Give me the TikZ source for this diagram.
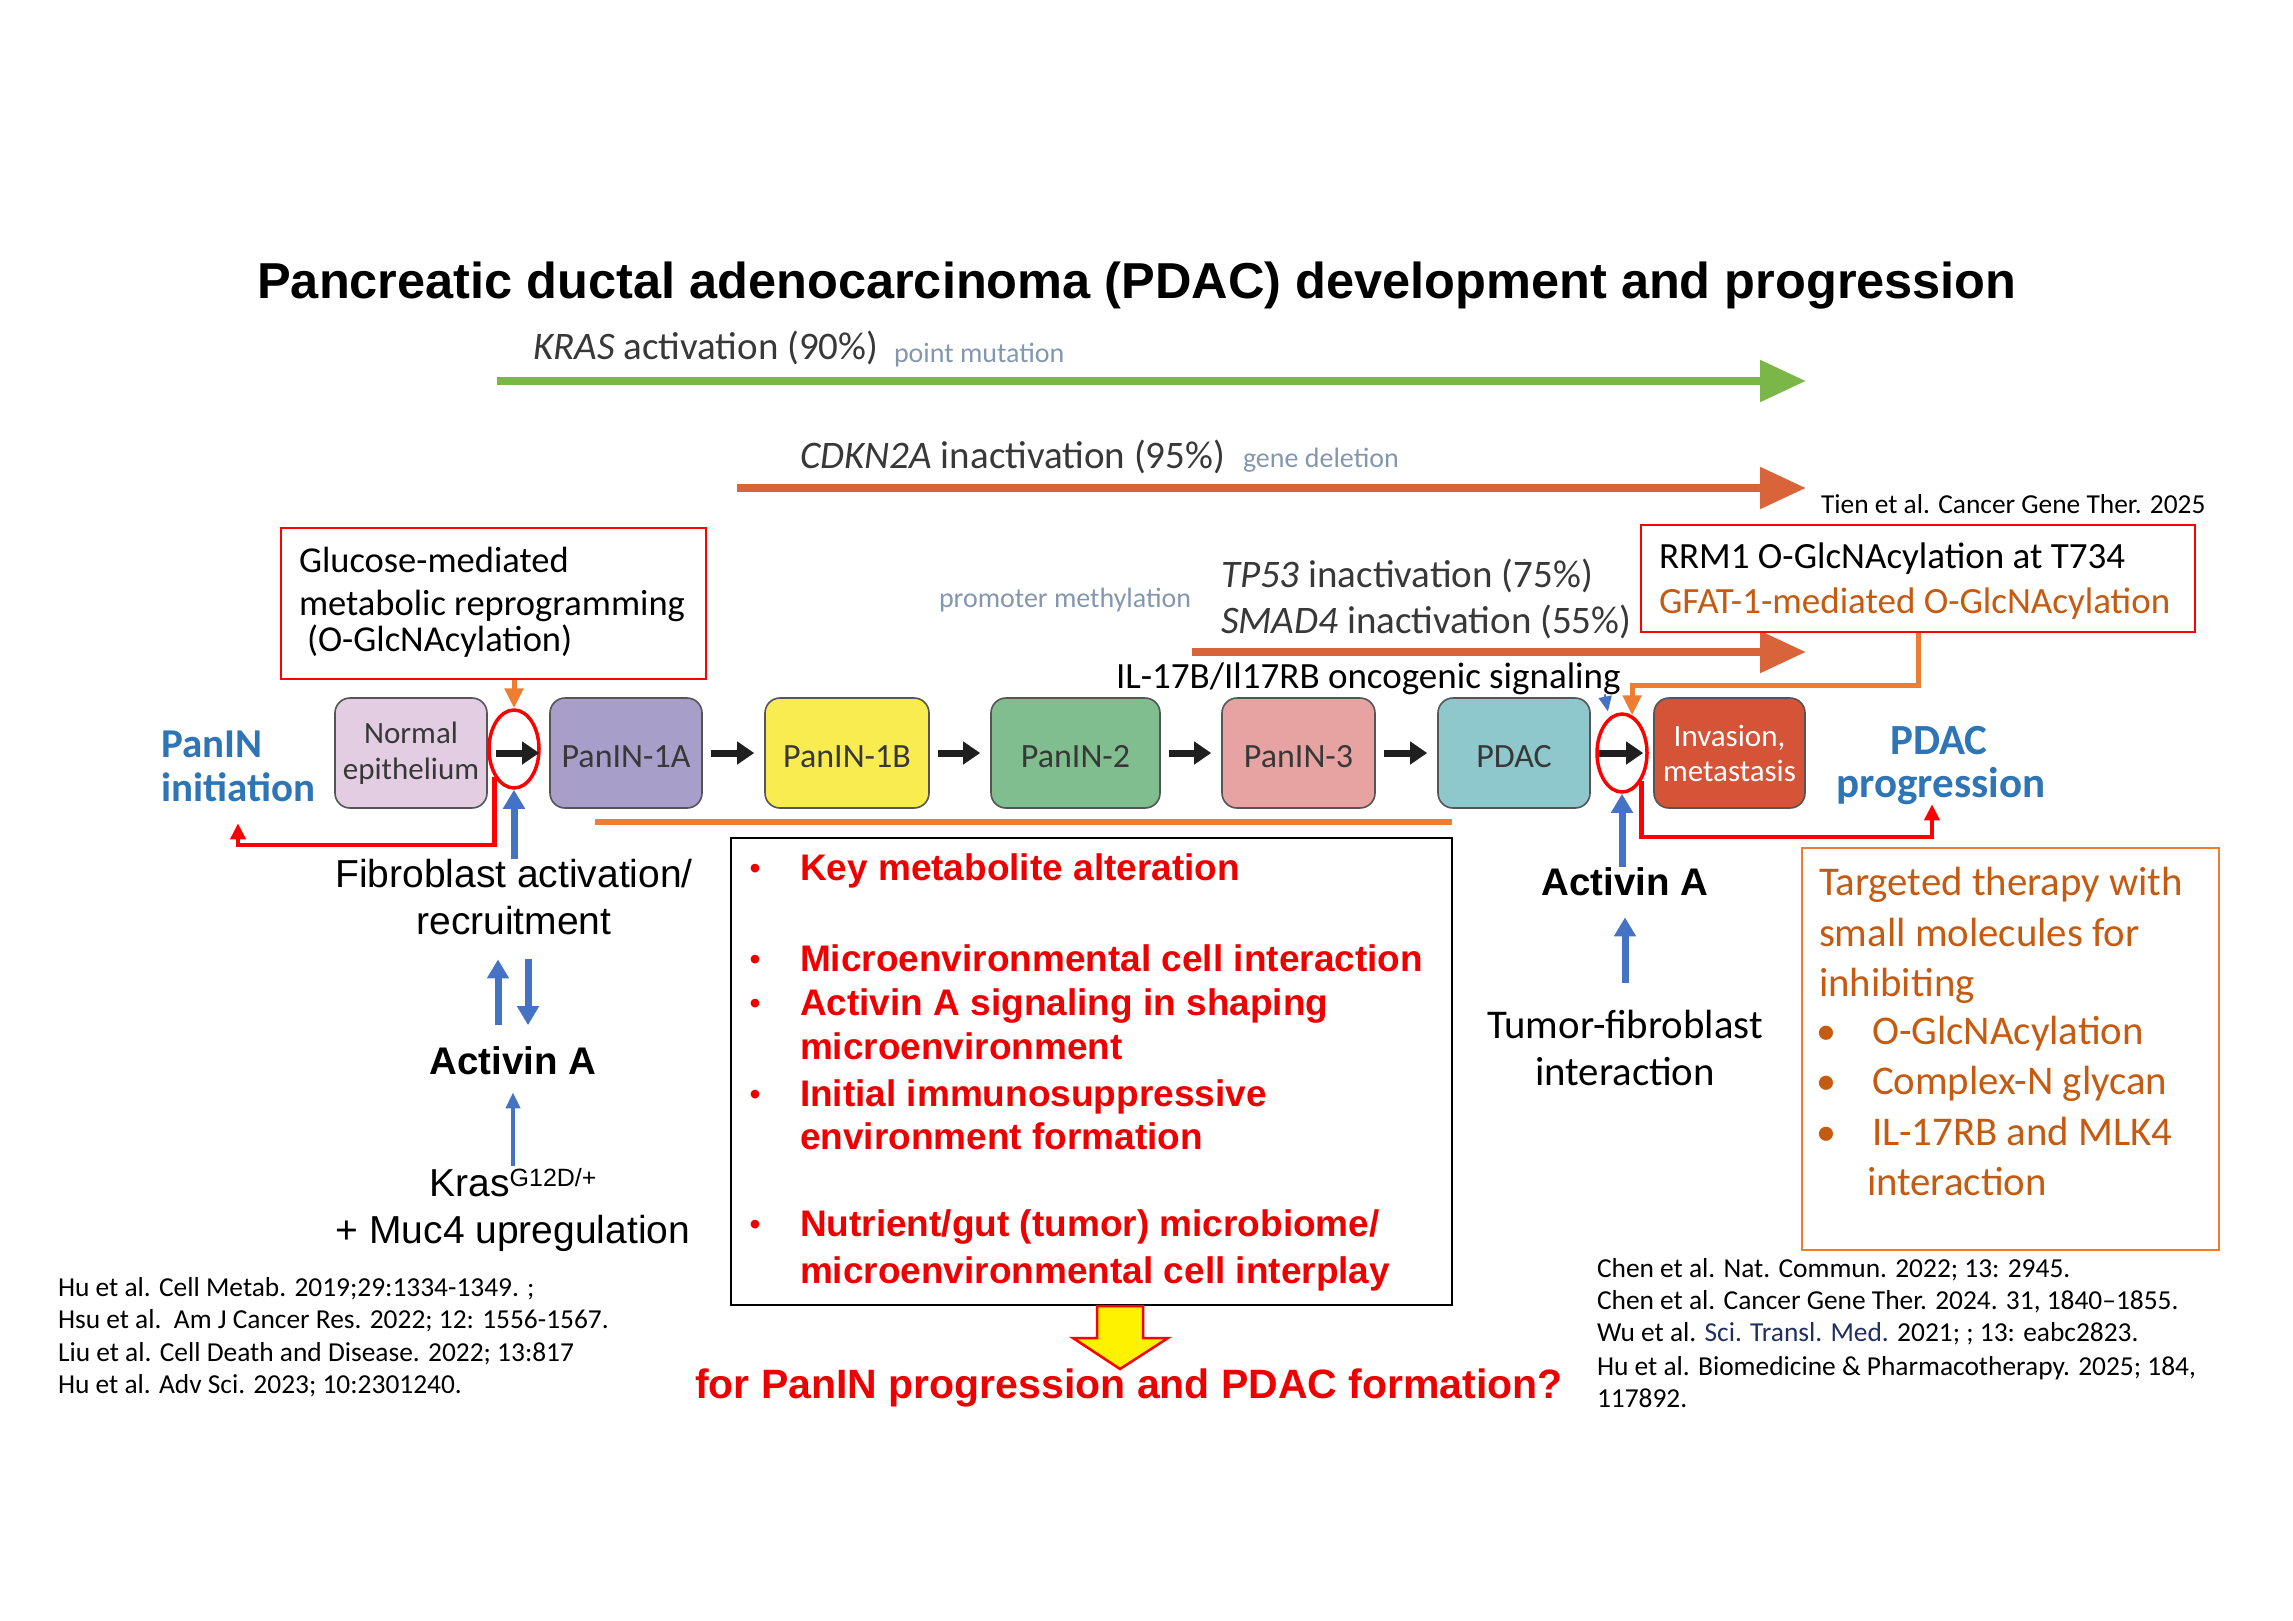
\documentclass[tikz,border=0pt]{standalone}
\usepackage{fontspec}
\setmainfont{Carlito}
\newfontfamily\arialf{Liberation Sans}
\usetikzlibrary{arrows.meta,shapes.geometric,calc}
\definecolor{kgreen}{HTML}{7AB648}
\definecolor{korange}{HTML}{D9643A}
\definecolor{lorange}{HTML}{ED7D31}
\definecolor{brownor}{HTML}{C55A11}
\definecolor{pblue}{HTML}{2E75B6}
\definecolor{ablue}{HTML}{4472C4}
\definecolor{gblue}{HTML}{8497B0}
\definecolor{dgray}{HTML}{383838}
\definecolor{sred}{HTML}{FF0000}
\definecolor{tred}{HTML}{EE0000}
\definecolor{boxline}{HTML}{555555}
\definecolor{cNorm}{HTML}{E2CDE2}
\definecolor{cOneA}{HTML}{A89ECA}
\definecolor{cOneB}{HTML}{F9EC50}
\definecolor{cTwo}{HTML}{80BD8F}
\definecolor{cThree}{HTML}{E6A3A2}
\definecolor{cPD}{HTML}{8EC8CC}
\definecolor{cInv}{HTML}{D55336}
\definecolor{refnavy}{HTML}{1F2F5F}
\newcommand{\fsz}[1]{\fontsize{#1}{#1}\selectfont}
\newcommand{\fsl}[2]{\fontsize{#1}{#2}\selectfont}
\tikzset{
  lbl/.style={inner sep=0, outer sep=0, anchor=base west},
  ctr/.style={inner sep=0, outer sep=0, anchor=base},
  stage/.style={draw=boxline, line width=1.6, rounded corners=15, minimum height=110, inner sep=0, text=dgray, font=\fsz{34}, align=center},
  oneline/.style={text height=28, text depth=0},
  ring/.style={draw=sred, line width=3.5, ellipse, minimum width=50, minimum height=78, inner sep=0},
  bigar/.style={line width=8.5, -{Triangle[length=46,width=40]}},
  stepar/.style={draw=black!88, line width=7, -{Triangle[length=17,width=22]}, shorten <=8, shorten >=10},
  oconn/.style={draw=lorange, line width=5, -{Triangle[length=20,width=18]}},
  rconn/.style={draw=sred, line width=4.5, -{Triangle[length=16,width=15]}},
  bconn/.style={draw=ablue, line width=7, -{Triangle[length=19,width=21]}},
  redtxt/.style={lbl, text=tred, font=\arialf\bfseries\fsz{37}},
  redbul/.style={ctr, text=tred, font=\arialf\bfseries\fsz{30}},
  ortxt/.style={lbl, text=brownor, font=\fsz{40.8}},
  orbul/.style={ctr, text=brownor, font=\fsz{40}},
  reftxt/.style={lbl, font=\fsz{27.4}},
  mutlbl/.style={lbl, text=dgray, font=\fsz{39}},
}
\begin{document}
\begin{tikzpicture}[x=1pt,y=-1pt]
\useasboundingbox (0,0) rectangle (2293,1620);
\fill[white] (0,0) rectangle (2293,1620);

% title
\node[ctr, font=\arialf\bfseries\fsz{50.5}] (title) at (1137,298) {Pancreatic ductal adenocarcinoma (PDAC) development and progression};

% mutation arrows
\coordinate (krasS) at (497,381); \coordinate (krasE) at (1806,381);
\draw[bigar, kgreen] (krasS) -- (krasE);
\node[mutlbl] (kraslab) at (533,359) {\textit{KRAS} activation (90\%)};
\node[lbl, text=gblue, font=\fsz{28}] (krasnote) at (894,362) {point mutation};

\coordinate (cdkS) at (737,488); \coordinate (cdkE) at (1806,488);
\draw[bigar, korange] (cdkS) -- (cdkE);
\node[mutlbl] (cdklab) at (800,468) {\textit{CDKN2A} inactivation (95\%)};
\node[lbl, text=gblue, font=\fsz{28}] (cdknote) at (1243,467) {gene deletion};
\node[reftxt] (tien) at (1821,513) {Tien et al. Cancer Gene Ther. 2025};

\coordinate (tpS) at (1192,652); \coordinate (tpE) at (1806,652);
\draw[bigar, korange] (tpS) -- (tpE);
\node[lbl, text=gblue, font=\fsz{28}] (prom) at (939,607) {promoter methylation};
\node[mutlbl] (tp53) at (1221,587) {\textit{TP53} inactivation (75\%)};
\node[mutlbl] (smad) at (1221,633) {\textit{SMAD4} inactivation (55\%)};

% glucose box
\node[draw=sred, line width=2.5, minimum width=425, minimum height=151, inner sep=0] (gbox) at (493.5,603.5) {};
\node[lbl, font=\fsz{36.5}] (g1) at (299,572) {Glucose-mediated};
\node[lbl, font=\fsz{36.5}] (g2) at (299,615) {metabolic reprogramming};
\node[lbl, font=\fsz{36.5}] (g3) at (307,651) {(O-GlcNAcylation)};

% RRM1 box
\node[draw=sred, line width=2.5, minimum width=554, minimum height=107, inner sep=0] (rbox) at (1918,578.5) {};
\node[lbl, font=\fsz{37}] (r1) at (1659,568) {RRM1 O-GlcNAcylation at T734};
\node[lbl, text=brownor, font=\fsz{37}] (r2) at (1659,613) {GFAT-1-mediated O-GlcNAcylation};

\node[lbl, font=\fsz{37}] (il) at (1116,688) {IL-17B/Il17RB oncogenic signaling};

% stages
\node[stage, fill=cNorm, minimum width=152, font=\fsl{31}{36}] (norm) at (411,753) {Normal\\epithelium};
\node[stage, oneline, fill=cOneA, minimum width=152] (p1a) at (626,753) {PanIN-1A};
\node[stage, oneline, fill=cOneB, minimum width=164] (p1b) at (847,753) {PanIN-1B};
\node[stage, oneline, fill=cTwo, minimum width=169] (p2) at (1075.5,753) {PanIN-2};
\node[stage, oneline, fill=cThree, minimum width=153] (p3) at (1298.5,753) {PanIN-3};
\node[stage, oneline, fill=cPD, minimum width=152] (pdac) at (1514,753) {PDAC};
\node[stage, fill=cInv, minimum width=151, text=white, font=\fsl{31}{35}] (inv) at (1729.5,753) {Invasion,\\metastasis};

\node[ring] (c1) at (514,749) {};
\node[ring] (c2) at (1622,753) {};

\draw[stepar] (norm) -- (p1a);
\draw[stepar] (p1a) -- (p1b);
\draw[stepar] (p1b) -- (p2);
\draw[stepar] (p2) -- (p3);
\draw[stepar] (p3) -- (pdac);
\draw[stepar] (pdac) -- (inv);

% side labels
\node[lbl, text=pblue, font=\bfseries\fsz{41}] (init1) at (161,757) {PanIN};
\node[lbl, text=pblue, font=\bfseries\fsz{41}] (init2) at (161,801) {initiation};
\node[ctr, text=pblue, font=\bfseries\fsz{43}] (prog1) at (1939,754) {PDAC};
\node[ctr, text=pblue, font=\bfseries\fsz{43}] (prog2) at (1941,797) {progression};

% connectors around rings
\draw[oconn] (c1.north |- gbox.south) -- (c1.north);
\coordinate (rbend) at (0,685);
\draw[oconn] (rbox.south) |- (c2.75 |- rbend) -- (c2.75);

\coordinate (lowL) at (0,845);
\draw[rconn, shorten >=22] (c1.-125) |- (init2.south |- lowL) -- (init2.south);
\coordinate (lowR) at (0,837);
\coordinate (progTip) at ([xshift=-9]prog2.south);
\draw[rconn] (c2.-55) |- (progTip |- lowR) -- (progTip);

\draw[ablue, line width=2, -{Triangle[length=15,width=13]}, shorten >=6] ([xshift=-16]il.south east) -- (c2.110);

% left column
\node[ctr, font=\arialf\fsz{39}] (fib1) at (514,887) {Fibroblast activation/};
\node[ctr, font=\arialf\fsz{39}] (fib2) at (514,934) {recruitment};
\node[ctr, font=\arialf\bfseries\fsz{38.5}] (actL) at (513,1074) {Activin A};
\node[ctr, font=\arialf\fsz{39}] (kras) at (513,1196) {Kras\raisebox{10pt}{\fsz{25}G12D/+}};
\node[ctr, font=\arialf\fsz{39}] (muc) at (513,1243) {+ Muc4 upregulation};

\draw[bconn] (c1.south |- fib1.north) -- (c1.south);
\coordinate (dA) at ([xshift=-15]actL.north);
\coordinate (dB) at ([xshift=15]actL.north);
\draw[bconn, shorten <=21, shorten >=25] (dA) -- (dA |- fib2.south);
\draw[bconn, shorten <=25, shorten >=21] (dB |- fib2.south) -- (dB);
\draw[ablue, line width=4, -{Triangle[length=16,width=14]}, shorten <=2, shorten >=18] (kras.north) -- (actL.south);

\node[reftxt] (lr1) at (58,1296) {Hu et al. Cell Metab. 2019;29:1334-1349. ;};
\node[reftxt] (lr2) at (58,1328) {Hsu et al.\ \ Am J Cancer Res. 2022; 12: 1556-1567.};
\node[reftxt] (lr3) at (58,1361) {Liu et al. Cell Death and Disease. 2022; 13:817};
\node[reftxt] (lr4) at (58,1393) {Hu et al. Adv Sci. 2023; 10:2301240.};

% middle box
\draw[lorange, line width=6.5] (595,822) -- (1452,822);
\node[draw, line width=1.5, minimum width=721, minimum height=467, inner sep=0] (bbox) at (1091.5,1071.5) {};
\node[redbul] at (755,878) {•};
\node[redtxt] (b1) at (800,880) {Key metabolite alteration};
\node[redbul] at (755,969) {•};
\node[redtxt] (b2) at (800,971) {Microenvironmental cell interaction};
\node[redbul] at (755,1013) {•};
\node[redtxt] (b3) at (800,1015) {Activin A signaling in shaping};
\node[redtxt] (b3b) at (800,1059) {microenvironment};
\node[redbul] at (755,1104) {•};
\node[redtxt] (b4) at (800,1106) {Initial immunosuppressive};
\node[redtxt] (b4b) at (800,1149) {environment formation};
\node[redbul] at (755,1234) {•};
\node[redtxt] (b5) at (800,1236) {Nutrient/gut (tumor) microbiome/};
\node[redtxt] (b5b) at (800,1283) {microenvironmental cell interplay};

\draw[sred, fill=yellow, line width=2.5] (1097,1306) -- (1143,1306) -- (1143,1338) -- (1168,1338) -- (1120,1369) -- (1073,1338) -- (1097,1338) -- cycle;
\node[ctr, text=tred, font=\arialf\bfseries\fsz{41}] (q) at (1129,1398) {for PanIN progression and PDAC formation?};

% right column
\node[ctr, font=\arialf\bfseries\fsz{38.5}] (actR) at (1625,895) {Activin A};
\node[ctr, font=\fsz{40.8}] (tf1) at (1625,1038) {Tumor-fibroblast};
\node[ctr, font=\fsz{40.8}] (tf2) at (1625,1085) {interaction};
\draw[bconn] (c2.south |- actR.north) -- (c2.south);
\draw[bconn, shorten <=27, shorten >=22] (tf1.north) -- (actR.south);

\node[draw=lorange, line width=2.5, minimum width=417, minimum height=402, inner sep=0] (tbox) at (2010.5,1049) {};
\node[ortxt] (t1) at (1819,895) {Targeted therapy with};
\node[ortxt] (t2) at (1819,946) {small molecules for};
\node[ortxt] (t3) at (1819,996) {inhibiting};
\node[orbul] at (1826,1044) {•};
\node[ortxt] (t4) at (1872,1044) {O-GlcNAcylation};
\node[orbul] at (1826,1094) {•};
\node[ortxt] (t5) at (1872,1094) {Complex-N glycan};
\node[orbul] at (1826,1145) {•};
\node[ortxt] (t6) at (1872,1145) {IL-17RB and MLK4};
\node[ortxt] (t7) at (1867,1195) {interaction};

\node[reftxt] (rr1) at (1597,1277) {Chen et al. Nat. Commun. 2022; 13: 2945.};
\node[reftxt] (rr2) at (1597,1309) {Chen et al. Cancer Gene Ther. 2024. 31, 1840–1855.};
\node[reftxt] (rr3) at (1597,1341) {Wu et al. {\color{refnavy}Sci. Transl. Med.} 2021; ; 13: eabc2823.};
\node[reftxt] (rr4) at (1597,1375) {Hu et al. Biomedicine \& Pharmacotherapy. 2025; 184,};
\node[reftxt] (rr5) at (1597,1407) {117892.};
\end{tikzpicture}
\end{document}
